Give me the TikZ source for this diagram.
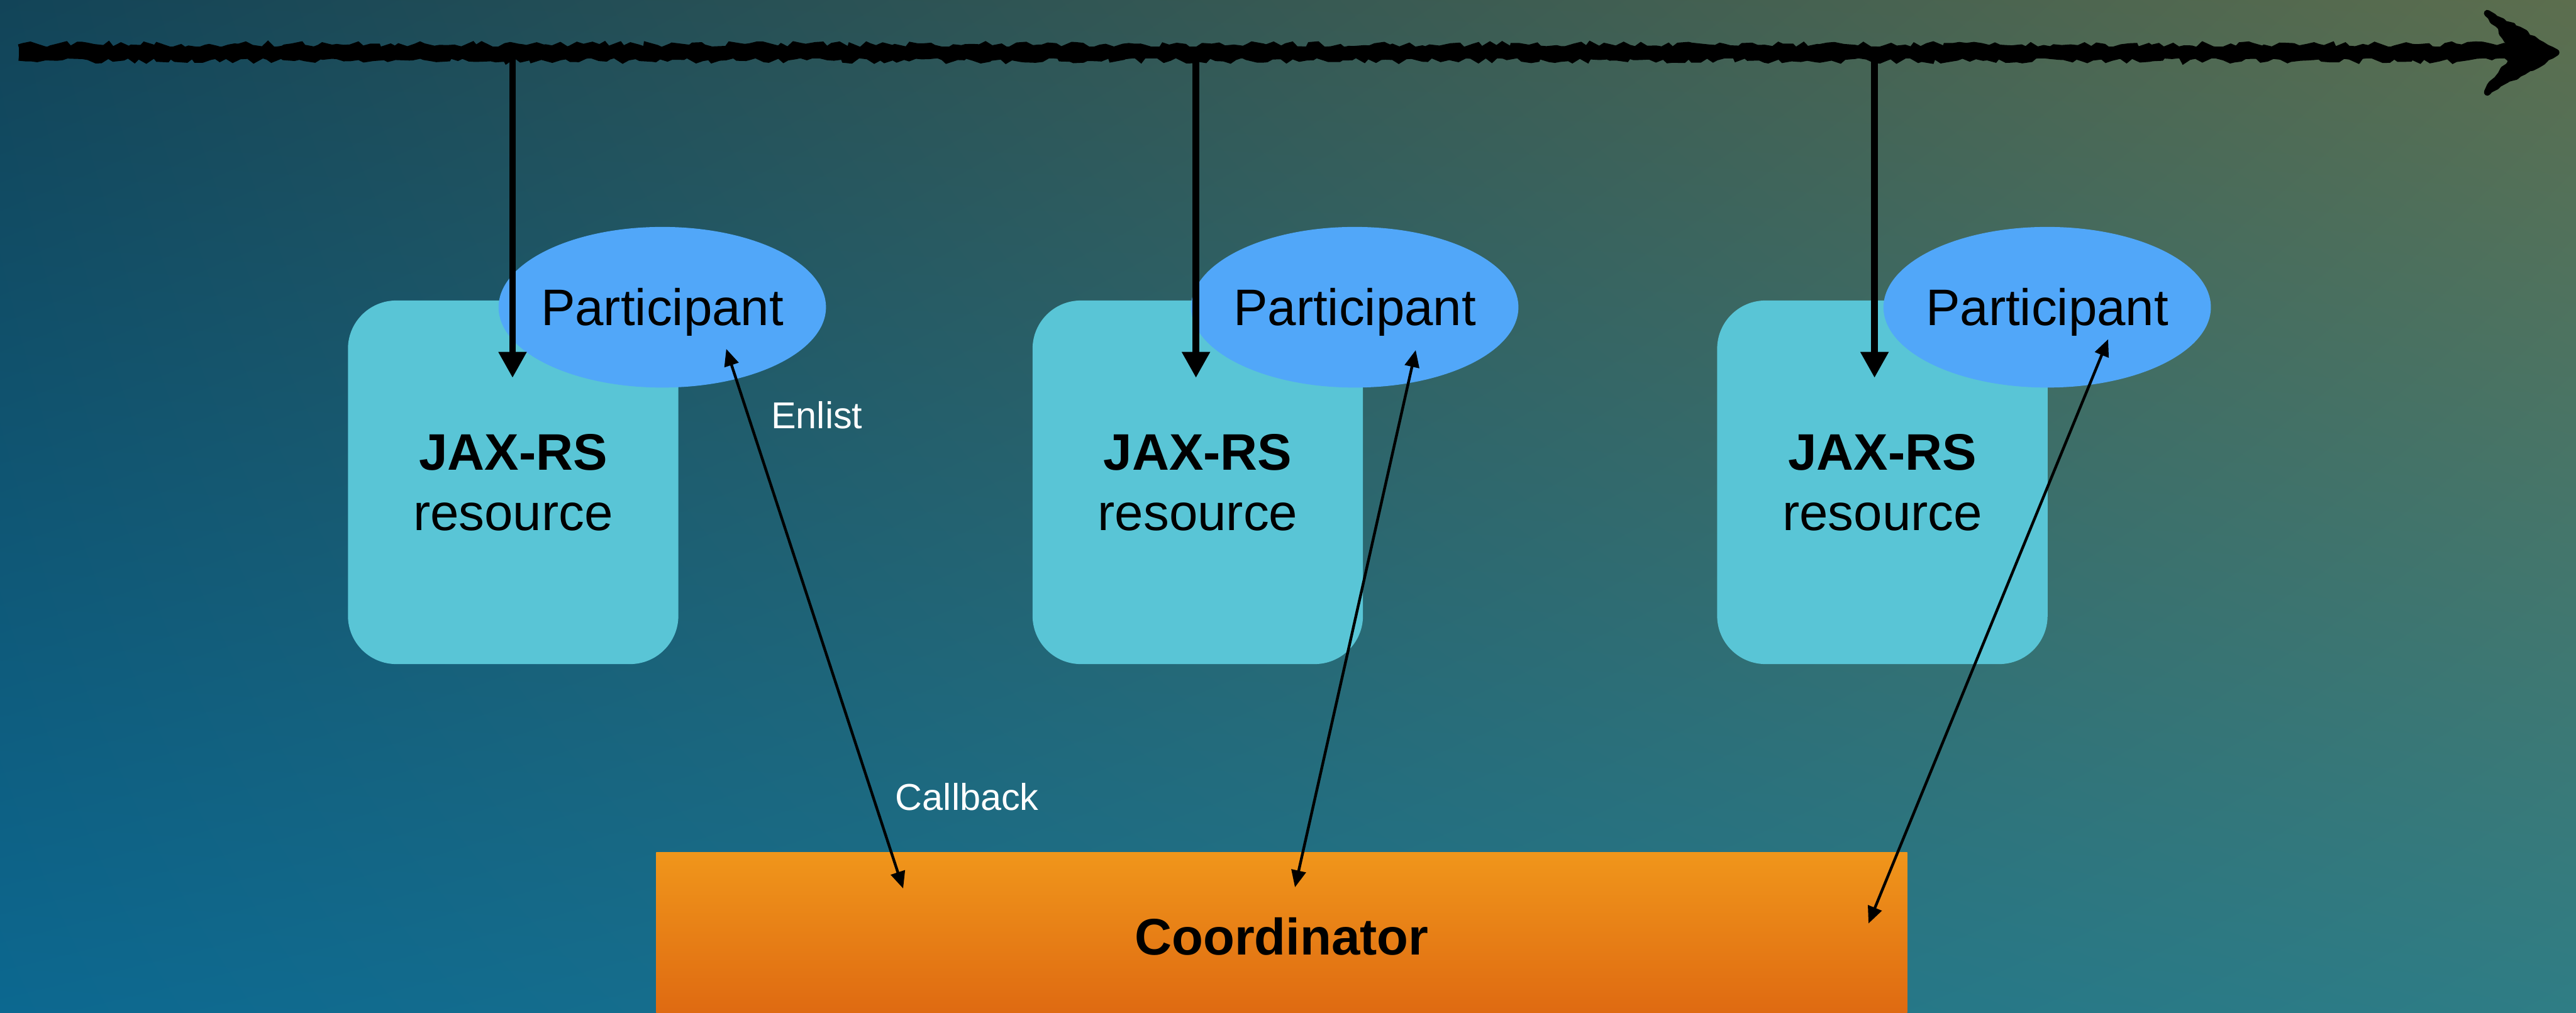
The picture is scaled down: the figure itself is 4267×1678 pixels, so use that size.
\documentclass[tikz,border=0pt]{standalone}
\usepackage{fontspec}
\setmainfont{Liberation Sans}
\usetikzlibrary{arrows.meta,shapes.geometric,decorations.pathmorphing,shadings}
\definecolor{bgul}{HTML}{124458}
\definecolor{bgur}{HTML}{5C6E4E}
\definecolor{bgll}{HTML}{0C6890}
\definecolor{bglr}{HTML}{2F7D85}
\definecolor{boxcyan}{HTML}{59C5D6}
\definecolor{partblue}{HTML}{51A7F9}
\definecolor{orangetop}{HTML}{F0961B}
\definecolor{orangebot}{HTML}{DE6811}
\newcommand\jxbigfont{\fontsize{24.2pt}{28.45pt}\selectfont}
\newcommand\jxlblfont{\fontsize{17.6pt}{21pt}\selectfont}
\begin{document}
\begin{tikzpicture}[x=0.01cm,y=-0.01cm,
  resbox/.style={rectangle, rounded corners=0.8cm, fill=boxcyan, minimum width=5.47cm, minimum height=6.02cm, inner sep=0pt, font=\jxbigfont, align=center},
  partell/.style={ellipse, fill=partblue, minimum width=5.42cm, minimum height=2.66cm, inner sep=0pt,
    label={[font=\jxbigfont, inner sep=0pt, yshift=-0.08cm]center:Participant}},
  coordbox/.style={rectangle, top color=orangetop, bottom color=orangebot, minimum width=20.71cm, minimum height=2.78cm, inner sep=0pt, font=\jxbigfont\bfseries},
  lbl/.style={text=white, font=\jxlblfont, inner sep=0pt},
  drop/.style={line width=3.1pt, -{Triangle[width=12.5pt,length=12.2pt]}},
  link/.style={line width=1.3pt, {Triangle[width=6.8pt,length=8pt]}-{Triangle[width=6.8pt,length=8pt]}},
  rough/.style={line width=2.6pt, decorate, decoration={random steps, segment length=3pt, amplitude=1.4pt}},
]
\useasboundingbox (0,0) rectangle (4267,1678);
\shade[upper left=bgul, upper right=bgur, lower left=bgll, lower right=bglr] (0,0) rectangle (4267,1678);

% resource boxes
\node[resbox] (r1) at (850,799) {\textbf{JAX-RS}\\resource};
\node[resbox] (r2) at (1984,799) {\textbf{JAX-RS}\\resource};
\node[resbox] (r3) at (3118,799) {\textbf{JAX-RS}\\resource};

% participants
\node[partell] (p1) at (1097,509) {};
\node[partell] (p2) at (2244,509) {};
\node[partell] (p3) at (3391,509) {};

% coordinator
\node[coordbox] (co) at (2123,1551) {Coordinator};

% timeline
\coordinate (tl0) at (31,87);
\coordinate (tl1) at (4170,87);
\coordinate (tip) at (4234,87);
\coordinate (hu) at (4120,22);
\coordinate (hd) at (4120,153);
\pgfmathsetseed{12}
\draw[line width=5.8pt] (tl0) -- (tl1);
\draw[rough] ([yshift=0.09cm]tl0) -- ([yshift=0.09cm]tl1);
\draw[rough] ([yshift=-0.09cm]tl0) -- ([yshift=-0.09cm]tl1);
\fill (hu) -- (tip) -- (hd) -- (4136,132) -- (4160,100) -- (4160,74) -- (4138,40) -- cycle;
\draw[line width=3.2pt, line join=round, decorate, decoration={random steps, segment length=2.5pt, amplitude=0.8pt}]
  (hu) -- (tip) -- (hd) -- (4136,132) -- (4160,100) -- (4160,74) -- (4138,40) -- cycle;

% drops from timeline
\coordinate (t1) at (849,87);  \coordinate (v1) at (849,626);
\coordinate (t2) at (1981,87); \coordinate (v2) at (1981,626);
\coordinate (t3) at (3105,87); \coordinate (v3) at (3105,626);
\draw[drop] (t1) -- (v1);
\draw[drop] (t2) -- (v2);
\draw[drop] (t3) -- (v3);

% links participant <-> coordinator
\coordinate (a1) at (1203,578); \coordinate (b1) at (1496,1472);
\coordinate (a2) at (2345,580); \coordinate (b2) at (2145,1470);
\coordinate (a3) at (3492,562); \coordinate (b3) at (3095,1530);
\draw[link] (a1) -- (b1);
\draw[link] (a2) -- (b2);
\draw[link] (a3) -- (b3);

% labels
\node[lbl] (enl) at (1353,688) {Enlist};
\node[lbl] (cbk) at (1602,1320) {Callback};
\end{tikzpicture}
\end{document}
